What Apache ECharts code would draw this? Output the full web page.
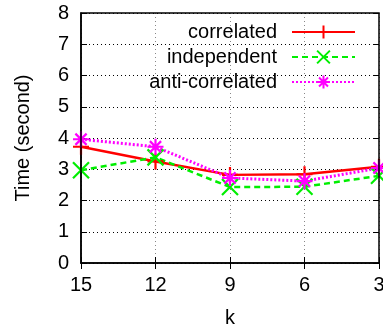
<!DOCTYPE html>
<html><head><meta charset="utf-8">
<script src="https://cdn.jsdelivr.net/npm/echarts@6/dist/echarts.min.js"></script>
<style>html,body{margin:0;padding:0;background:#fff}#c{width:383px;height:329px}</style>
</head><body><div id="c"></div>
<script>
var categories = ['15', '12', '9', '6', '3'];
var correlated = [3.72, 3.25, 2.82, 2.84, 3.08];
var independent = [2.97, 3.38, 2.43, 2.44, 2.79];
var antiCorrelated = [3.96, 3.72, 2.72, 2.62, 3.04];
var yTicks = [0, 1, 2, 3, 4, 5, 6, 7, 8];

var FONT = '"Liberation Sans", Arial, Helvetica, sans-serif';
var PLUS = 'path://M0,-1L0,1M-1,0L1,0';
var CROSS = 'path://M-1,-1L1,1M-1,1L1,-1';
var STAR = 'path://M0,-1L0,1M-1,0L1,0M-0.7,-0.7L0.7,0.7M-0.7,0.7L0.7,-0.7';

function mk(name, data, color, type, sym, w) {
  return {
    name: name, type: 'line', data: data, symbol: sym, symbolSize: 16,
    showAllSymbol: true,
    lineStyle: { color: color, width: w, type: type },
    itemStyle: { color: color, borderColor: color, borderWidth: 2.2 },
    emphasis: { disabled: true },
    z: 3
  };
}

var chart = echarts.init(document.getElementById('c'), null, { renderer: 'canvas' });
chart.setOption({
  animation: false,
  backgroundColor: '#fff',
  textStyle: { fontFamily: FONT },
  grid: { left: 81, right: 4, top: 13, bottom: 66, show: true, borderColor: '#000', borderWidth: 1.5, outerBoundsMode: 'none', z: 5 },
  legend: {
    orient: 'vertical', right: 22, top: 17, align: 'right',
    itemWidth: 63, itemHeight: 16, itemGap: 5,
    textStyle: { fontFamily: FONT, fontSize: 20, color: '#000', padding: [0, 10, 0, 0] },
    selectedMode: false
  },
  xAxis: [{
    type: 'category', data: categories, boundaryGap: false,
    name: 'k', nameLocation: 'middle', nameGap: 45,
    nameTextStyle: { fontFamily: FONT, fontSize: 20, color: '#000' },
    axisLine: { lineStyle: { color: '#000', width: 1.5 } },
    axisTick: { inside: true, length: 6, lineStyle: { color: '#000' } },
    axisLabel: { fontFamily: FONT, fontSize: 20, color: '#000', margin: 12 },
    splitLine: { show: true, lineStyle: { color: '#888', type: [1, 3], width: 1 } }
  }, {
    type: 'category', data: categories, boundaryGap: false, position: 'top',
    axisLine: { show: false }, axisLabel: { show: false },
    axisTick: { inside: true, length: 6, lineStyle: { color: '#000' } },
    splitLine: { show: false }
  }],
  yAxis: [{
    type: 'value', min: yTicks[0], max: yTicks[yTicks.length - 1], interval: 1,
    name: 'Time (second)', nameLocation: 'middle', nameGap: 48, nameRotate: 90,
    nameTextStyle: { fontFamily: FONT, fontSize: 20, color: '#000' },
    axisLine: { show: true, lineStyle: { color: '#000', width: 1.5 } },
    axisTick: { show: true, inside: true, length: 6, lineStyle: { color: '#000' } },
    axisLabel: { fontFamily: FONT, fontSize: 20, color: '#000', margin: 12 },
    splitLine: { show: true, lineStyle: { color: '#000', type: [1, 3], width: 1 } }
  }, {
    type: 'value', min: 0, max: 8, interval: 1, position: 'right',
    axisLine: { show: false }, axisLabel: { show: false },
    axisTick: { show: true, inside: true, length: 6, lineStyle: { color: '#000' } },
    splitLine: { show: false }
  }],
  series: [
    mk('correlated', correlated, '#ff0000', 'solid', PLUS, 2.5),
    mk('independent', independent, '#00ee00', [6, 4], CROSS, 2.5),
    mk('anti-correlated', antiCorrelated, '#ff00ff', [2, 2], STAR, 3)
  ]
});
</script></body></html>
